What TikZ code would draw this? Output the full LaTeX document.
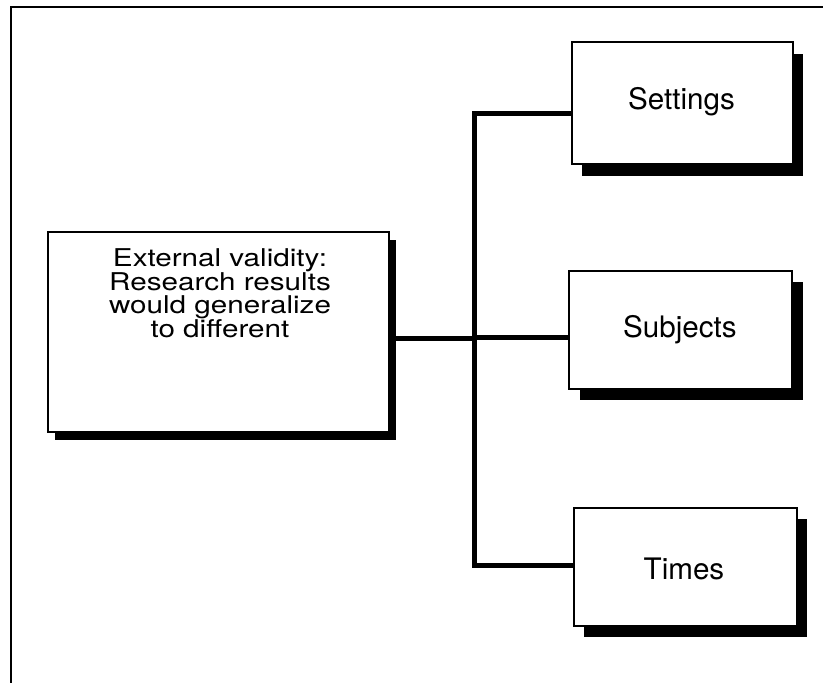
\documentclass[tikz,border=0pt]{standalone}
\usepackage{fontspec}
\setmainfont{TeX Gyre Heros}
\newfontfamily\widefont[FakeStretch=1.21]{TeX Gyre Heros}
\begin{document}
\begin{tikzpicture}[x=1pt,y=-1pt,
  box/.style={draw=black, line width=1.3pt, fill=white, inner sep=0pt},
  shadowbox/.style={fill=black, draw=none, inner sep=0pt},
  conn/.style={line width=5pt, line join=miter},
  lbl/.style={font=\fontsize{29.6}{30}\selectfont, inner sep=0pt, anchor=base},
  mainlbl/.style={font=\widefont\fontsize{24.5}{24}\selectfont, inner sep=0pt, anchor=base}]
\useasboundingbox (0,0) rectangle (823,683);
\fill[white] (0,0) rectangle (823,683);
% frame
\coordinate (fb) at (11,683);
\coordinate (ftl) at (11,7);
\coordinate (ftr) at (823,7);
\draw[line width=2pt] (fb) -- (ftl) -- (ftr);
% shadows
\node[shadowbox, minimum width=341pt, minimum height=200pt] (mainsh) at (225.5,340) {};
\node[shadowbox, minimum width=221pt, minimum height=122pt] (setsh) at (692.5,115) {};
\node[shadowbox, minimum width=223pt, minimum height=118pt] (subsh) at (691.5,341) {};
\node[shadowbox, minimum width=223pt, minimum height=118pt] (timsh) at (695.5,578) {};
% junction coordinates
\coordinate (jtop) at (474,113);
\coordinate (jmid) at (474,338);
\coordinate (jsub) at (474,337);
\coordinate (jbot) at (474,565);
% boxes
\node[box, minimum width=341pt, minimum height=200pt] (main) at (218.5,332) {};
\node[box, minimum width=221pt, minimum height=122pt] (settings) at (682.5,103) {};
\node[box, minimum width=223pt, minimum height=118pt] (subjects) at (680.5,330) {};
\node[box, minimum width=223pt, minimum height=118pt] (times) at (685.5,567) {};
% connectors
\draw[conn] (jtop -| settings.west) -- (jtop) -- (jbot) -- (jbot -| times.west);
\draw[conn] (jmid -| main.east) -- (jmid);
\draw[conn] (jsub) -- (jsub -| subjects.west);
% labels
\node[mainlbl] (mainA) at (220,266) {External validity:};
\node[mainlbl] (mainB) at (220,290) {Research results};
\node[mainlbl] (mainC) at (220,313.5) {would generalize};
\node[mainlbl] (mainD) at (220,337) {to different};
\node[lbl] (settingstext) at (681.5,109.5) {Settings};
\node[lbl] (subjectstext) at (680,337.5) {Subjects};
\node[lbl] (timestext) at (684,579.5) {Times};
\end{tikzpicture}
\end{document}
